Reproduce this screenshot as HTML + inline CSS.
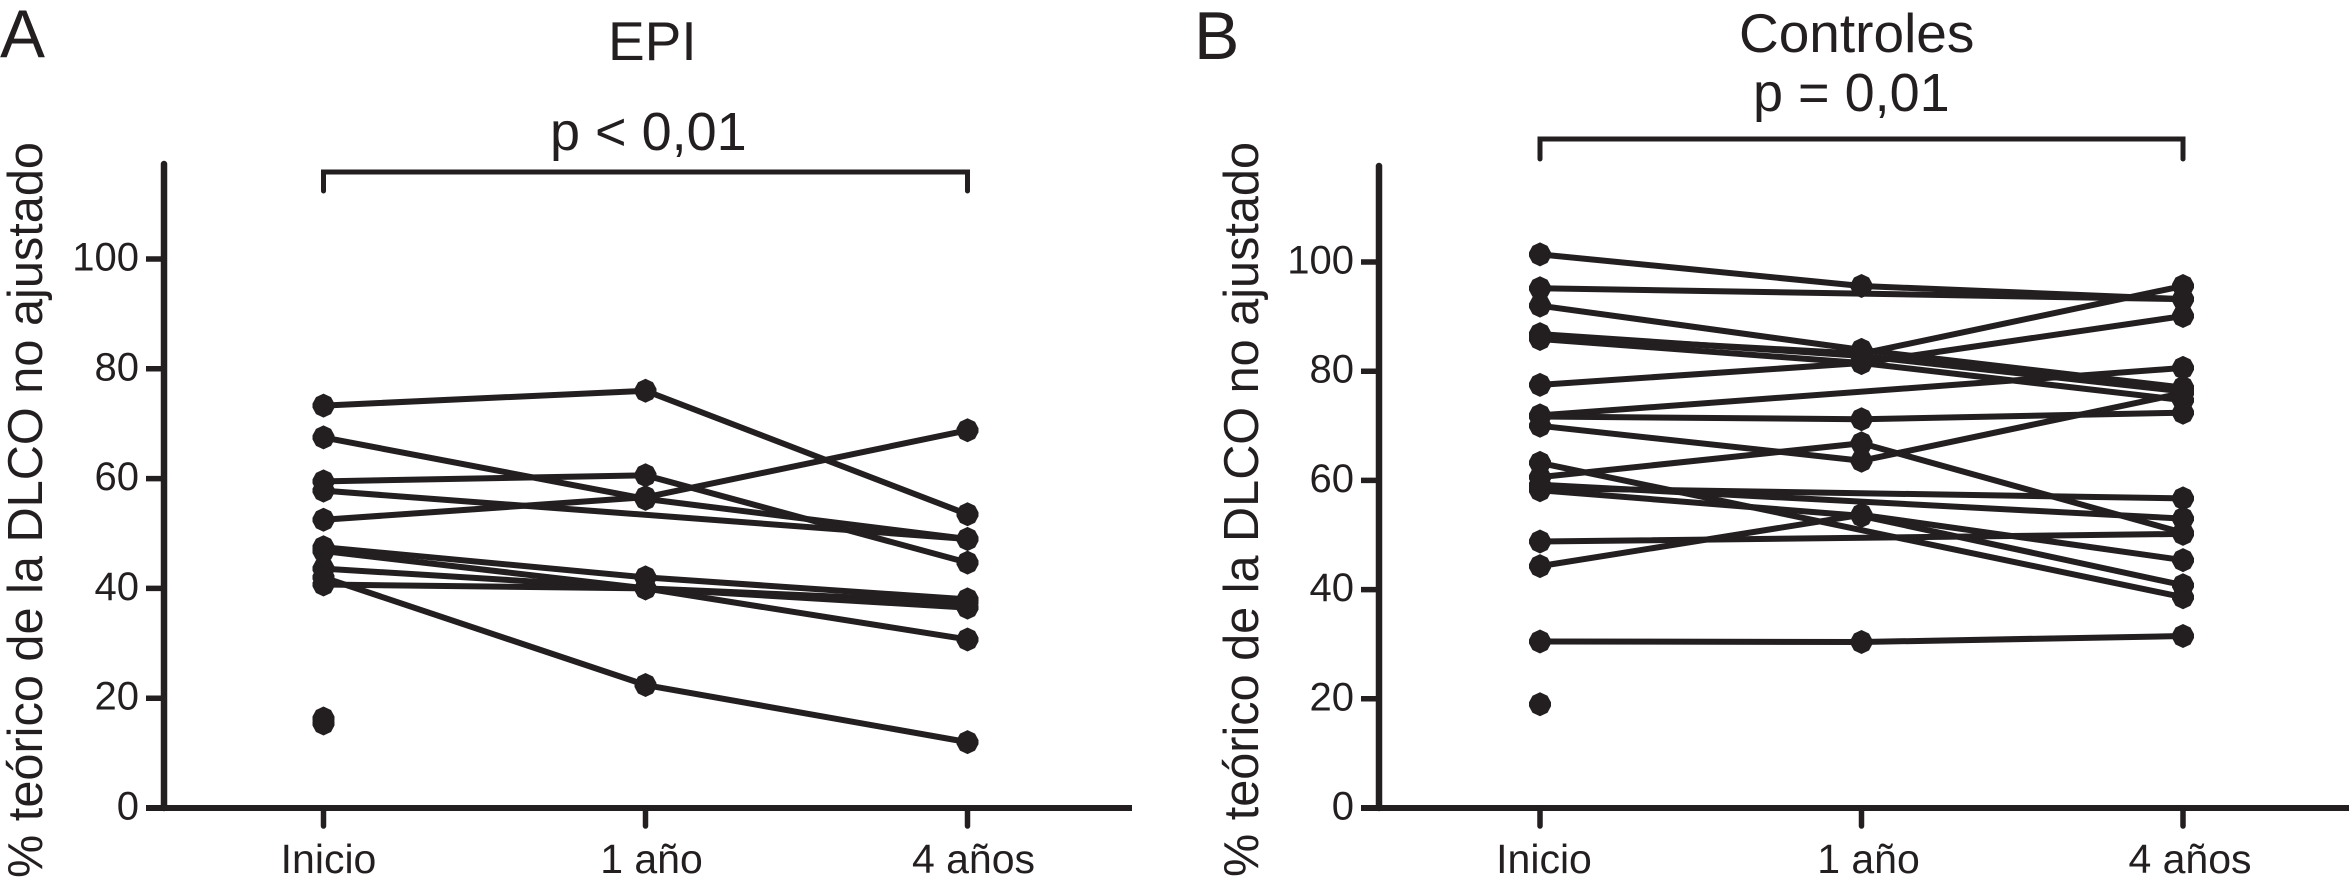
<!DOCTYPE html>
<html lang="es">
<head>
<meta charset="utf-8">
<title>DLCO EPI y Controles</title>
<style>
  html, body { margin: 0; padding: 0; background: #fff; }
  svg { display: block; }
  text { font-family: "Liberation Sans", sans-serif; fill: #231f20; }
</style>
</head>
<body>
<svg id="chart" xmlns="http://www.w3.org/2000/svg" width="2349" height="883" viewBox="0 0 2349 883">
  <rect x="0" y="0" width="2349" height="883" fill="#ffffff"></rect>

  <g>
    <text x="0" y="57" font-size="68" textLength="45" lengthAdjust="spacingAndGlyphs">A</text>
    <text x="608" y="60" font-size="55">EPI</text>
    <text x="550" y="150" font-size="54">p &lt; 0,01</text>
    <text transform="translate(42,878) rotate(-90)" x="0" y="0" font-size="49" textLength="736" lengthAdjust="spacingAndGlyphs">% teórico de la DLCO no ajustado</text>
  </g>

  <g>
    <text x="1194" y="59" font-size="68">B</text>
    <text x="1739" y="52" font-size="55">Controles</text>
    <text x="1753" y="111" font-size="54">p = 0,01</text>
    <text transform="translate(1258,877) rotate(-90)" x="0" y="0" font-size="49" textLength="735" lengthAdjust="spacingAndGlyphs">% teórico de la DLCO no ajustado</text>
  </g>
</svg>

<script>
// Shared axis data
const timeLabels = ["Inicio", "1 año", "4 años"];
const yTickValues = [0, 20, 40, 60, 80, 100];

// Panel A (EPI): one value per subject at each time point; null = not measured
const epiInicio = [73.3, 67.5, 59.5, 57.8, 52.5, 47.5, 46.8, 43.6, 40.7, 42.0, 16.3, 15.4];
const epi1Ano   = [76.0, 56.3, 60.6, null, 56.6, 42.0, 40.0, 40.0, 40.0, 22.4, null, null];
const epi4Anos  = [53.5, 49.0, 44.7, 49.0, 68.8, 38.0, 37.5, 30.7, 36.5, 12.0, null, null];

// Panel B (Controles): one value per subject at each time point; null = not measured
const ctlInicio = [101.4, 95.2, 92.0, 86.8, 86.4, 85.9, 77.5, 71.9, 71.7, 70.0, 60.6, 63.2, 58.6, 59.2, 58.2, 48.8, 44.3, 30.5, 19.0];
const ctl1Ano   = [95.6, null, 83.9, 82.8, 83.2, 81.5, 81.5, null, 71.2, 63.6, 66.8, null, null, null, 53.5, null, 53.7, 30.4, null];
const ctl4Anos  = [93.2, 93.2, 77.0, 76.3, 95.6, 74.7, 90.1, 80.6, 72.4, 76.0, 50.4, 38.6, 56.7, 53.0, 40.8, 50.2, 45.4, 31.5, null];

const SVG_NS = "http://www.w3.org/2000/svg";
const INK = "#231f20";
const svg = document.getElementById("chart");

function makeLine(parent, x1, y1, x2, y2, width, cap) {
  const el = document.createElementNS(SVG_NS, "line");
  el.setAttribute("x1", x1);
  el.setAttribute("y1", y1);
  el.setAttribute("x2", x2);
  el.setAttribute("y2", y2);
  el.setAttribute("stroke", INK);
  el.setAttribute("stroke-width", width);
  el.setAttribute("stroke-linecap", cap);
  parent.appendChild(el);
  return el;
}

function makeText(parent, x, y, str, anchor, size) {
  const el = document.createElementNS(SVG_NS, "text");
  el.setAttribute("x", x);
  el.setAttribute("y", y);
  el.setAttribute("text-anchor", anchor);
  el.setAttribute("font-size", size);
  el.textContent = str;
  parent.appendChild(el);
  return el;
}

function markerPoints(cx, cy) {
  const outline = [[0, -12], [7.5, -8.5], [11, -2], [11, 2], [7.5, 8.5], [0, 12], [-7.5, 8.5], [-11, 2], [-11, -2], [-7.5, -8.5]];
  return outline.map(p => (cx + p[0]) + "," + (cy + p[1])).join(" ");
}

function drawPanel(prefix, cfg, seriesByTime) {
  const xScale = i => cfg.x0 + i * cfg.xStep;
  const yScale = v => cfg.y0 - v * cfg.yUnit;

  const root = document.createElementNS(SVG_NS, "g");
  
  
  svg.appendChild(root);

  // y axis
  const yAxis = makeLine(root, cfg.axisX, cfg.axisTop, cfg.axisX, cfg.y0, 6.5, "round");
  
  

  // x axis
  const xAxis = makeLine(root, cfg.axisX - 18, cfg.y0, cfg.axisEnd, cfg.y0, 6, "butt");
  
  

  // y ticks and labels
  yTickValues.forEach(v => {
    const tick = makeLine(root, cfg.axisX - 18, yScale(v), cfg.axisX, yScale(v), 5.5, "butt");
    
    
    const label = makeText(root, cfg.axisX - 25, yScale(v) + 11.5, String(v), "end", 40);
    
    
  });

  // x ticks and labels
  timeLabels.forEach((name, i) => {
    const tick = makeLine(root, xScale(i), cfg.y0, xScale(i), cfg.y0 + 18, 5.5, "round");
    
    
    const label = makeText(root, xScale(i) + cfg.labelShift[i], 873, name, "middle", 41);
    
    
  });

  // significance bracket
  const bracket = document.createElementNS(SVG_NS, "path");
  bracket.setAttribute("d", "M" + xScale(0) + " " + (cfg.bracketY + cfg.bracketDrop) + "V" + cfg.bracketY + "H" + xScale(2) + "V" + (cfg.bracketY + cfg.bracketDrop));
  bracket.setAttribute("fill", "none");
  bracket.setAttribute("stroke", INK);
  bracket.setAttribute("stroke-width", 5);
  bracket.setAttribute("stroke-linecap", "round");
  
  
  root.appendChild(bracket);

  // subject lines: join consecutive measured time points, skipping gaps
  seriesByTime[0].forEach((_, s) => {
    let prev = null;
    seriesByTime.forEach((values, t) => {
      const v = values[s];
      if (v === null) return;
      if (prev !== null) {
        const seg = makeLine(root, xScale(prev.t), yScale(prev.v), xScale(t), yScale(v), 6, "round");
        
        
      }
      prev = { t: t, v: v };
    });
  });

  // subject points
  seriesByTime.forEach((values, t) => {
    values.forEach(v => {
      if (v === null) return;
      const dot = document.createElementNS(SVG_NS, "polygon");
      dot.setAttribute("points", markerPoints(xScale(t), yScale(v)));
      dot.setAttribute("fill", INK);
      
      
      root.appendChild(dot);
    });
  });
}

drawPanel("panel-a", {
  x0: 323.5, xStep: 322, y0: 808, yUnit: 5.49,
  axisX: 164, axisTop: 164, axisEnd: 1132,
  bracketY: 172, bracketDrop: 19, labelShift: [5, 6, 6]
}, [epiInicio, epi1Ano, epi4Anos]);

drawPanel("panel-b", {
  x0: 1540, xStep: 321.5, y0: 808, yUnit: 5.46,
  axisX: 1379, axisTop: 166, axisEnd: 2349,
  bracketY: 139, bracketDrop: 20, labelShift: [4, 7, 7]
}, [ctlInicio, ctl1Ano, ctl4Anos]);
</script>
</body>
</html>
